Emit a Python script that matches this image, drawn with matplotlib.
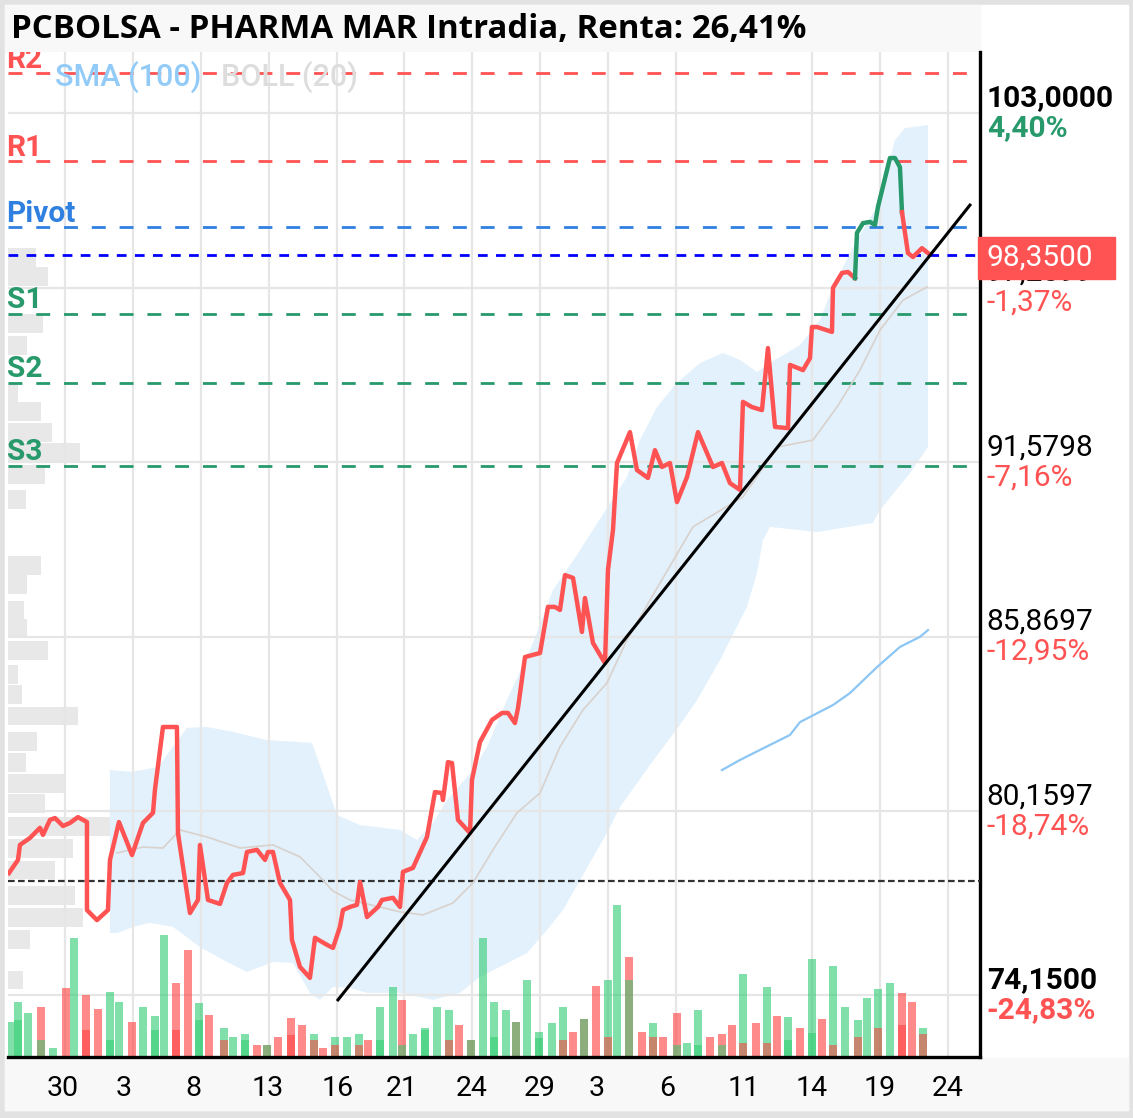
import matplotlib
matplotlib.use('Agg')
import matplotlib.pyplot as plt
import matplotlib.transforms as mtransforms
from matplotlib.patches import Rectangle
import numpy as np

plt.rcParams['font.family'] = ['Roboto', 'DejaVu Sans']

# --- datos (sesión = posición en el eje temporal, precio en euros) ---
sesion = [-0.825, -0.692, -0.663, -0.515, -0.368, -0.324, -0.221, -0.147, -0.029, 0.074,
          0.191, 0.324, 0.324, 0.471, 0.633, 0.663, 0.795, 0.987, 1.149, 1.296,
          1.325, 1.443, 1.649, 1.664, 1.841, 1.959, 1.988, 2.106, 2.283, 2.386,
          2.474, 2.622, 2.680, 2.828, 2.946, 2.990, 3.063, 3.166, 3.314, 3.343,
          3.461, 3.608, 3.682, 3.859, 3.947, 4.050, 4.094, 4.197, 4.300, 4.345,
          4.448, 4.610, 4.669, 4.831, 4.934, 4.978, 5.125, 5.331, 5.449, 5.552,
          5.567, 5.641, 5.700, 5.788, 5.965, 5.994, 6.112, 6.289, 6.436, 6.524,
          6.627, 6.672, 6.775, 6.892, 6.996, 7.113, 7.216, 7.290, 7.364, 7.482,
          7.614, 7.658, 7.776, 7.953, 7.997, 8.071, 8.130, 8.321, 8.424, 8.586,
          8.689, 8.792, 8.910, 9.013, 9.161, 9.323, 9.543, 9.676, 9.794, 9.941,
          9.985, 10.118, 10.265, 10.353, 10.457, 10.648, 10.678, 10.869, 10.972, 11.001,
          11.075, 11.296, 11.311, 11.443, 11.532, 11.635, 11.664, 11.753, 11.856, 11.929,
          11.973, 12.150, 12.224, 12.297, 12.327, 12.415, 12.489, 12.621, 12.710]
precio = [78.13, 78.56, 79.05, 79.28, 79.61, 79.38, 79.87, 79.93, 79.67, 79.77,
          79.96, 79.80, 76.92, 76.59, 76.92, 78.56, 79.80, 78.72, 79.77, 80.10,
          80.85, 82.91, 82.91, 79.44, 76.82, 77.25, 79.05, 77.25, 77.12, 77.81,
          78.07, 78.13, 78.82, 78.89, 78.56, 78.82, 78.82, 77.81, 77.25, 75.94,
          75.06, 74.70, 76.01, 75.78, 75.68, 76.37, 76.92, 77.02, 77.09, 77.84,
          76.69, 77.02, 77.25, 77.32, 77.02, 78.17, 78.30, 79.31, 80.78, 80.75,
          80.52, 81.76, 81.73, 79.87, 79.44, 81.18, 82.42, 83.14, 83.37, 83.37,
          83.04, 83.53, 85.20, 85.27, 85.33, 86.84, 86.84, 86.74, 87.88, 87.79,
          86.02, 87.13, 85.66, 85.00, 88.05, 89.36, 91.55, 92.56, 91.32, 91.06,
          91.97, 91.42, 91.55, 90.27, 91.09, 92.56, 91.42, 91.55, 90.89, 90.67,
          93.55, 93.38, 93.28, 95.31, 92.73, 92.69, 94.76, 94.59, 94.98, 96.00,
          96.00, 95.84, 97.28, 97.77, 97.80, 97.60, 99.08, 99.40, 99.44, 99.34,
          99.93, 101.53, 101.53, 101.23, 99.76, 98.42, 98.29, 98.58, 98.42]
tramo_verde = (115, 124)

boll_sup_x = [0.663, 0.987, 1.370, 1.591, 1.797, 2.091, 2.474, 2.975, 3.638, 3.829,
              4.006, 4.345, 4.934, 5.184, 5.420, 5.626, 6.009, 6.215, 6.510, 6.892,
              7.187, 7.541, 7.776, 8.277, 8.468, 8.719, 9.013, 9.352, 9.691, 9.941,
              10.191, 10.457, 10.825, 11.119, 11.311, 11.664, 11.973, 12.224, 12.371, 12.710]
boll_sup = [81.50, 81.44, 81.60, 82.26, 82.88, 82.91, 82.75, 82.48, 82.39, 81.18,
            80.03, 79.70, 79.54, 79.21, 79.77, 80.52, 81.50, 82.26, 83.79, 85.66,
            87.39, 88.54, 89.36, 91.09, 92.30, 93.38, 94.17, 94.82, 95.15, 94.92,
            94.53, 94.92, 95.41, 96.23, 97.31, 98.85, 99.99, 102.12, 102.51, 102.61]
boll_inf_x = [0.663, 0.781, 1.001, 1.252, 1.591, 1.988, 2.386, 2.680, 3.063, 3.358,
              3.608, 3.756, 3.947, 4.197, 4.448, 4.934, 5.420, 5.817, 6.112, 6.406,
              6.804, 7.099, 7.334, 7.585, 7.982, 8.174, 8.616, 9.058, 9.308, 9.647,
              10.044, 10.191, 10.280, 10.383, 11.075, 11.900, 12.003, 12.445, 12.710]
boll_inf = [76.17, 76.17, 76.37, 76.50, 76.37, 75.71, 75.22, 74.89, 75.22, 75.19,
            74.21, 73.98, 74.40, 74.37, 74.21, 74.21, 73.98, 74.21, 74.73, 75.06,
            75.51, 76.27, 76.92, 77.90, 79.44, 80.29, 81.67, 82.98, 83.79, 85.10,
            86.84, 87.95, 89.03, 89.46, 89.29, 89.59, 90.01, 91.22, 92.07]
boll_med_x = [0.766, 1.149, 1.443, 1.694, 2.091, 2.577, 3.063, 3.461, 3.756, 3.947,
              4.197, 4.934, 5.272, 5.714, 6.009, 6.303, 6.657, 6.996, 7.290, 7.629,
              7.982, 8.277, 8.763, 9.249, 9.985, 10.486, 11.016, 11.370, 11.708, 12.003,
              12.342, 12.695]
boll_med = [78.79, 78.98, 78.95, 79.54, 79.31, 78.95, 79.05, 78.66, 78.00, 77.54,
            77.25, 76.86, 76.76, 77.15, 77.81, 78.89, 80.10, 80.75, 82.26, 83.47,
            84.35, 85.76, 87.62, 89.46, 90.44, 92.07, 92.30, 93.38, 94.59, 95.90,
            96.88, 97.31]
sma_x = [9.676, 9.941, 10.236, 10.678, 10.825, 11.311, 11.561, 11.959, 12.297, 12.592, 12.710]
sma = [81.50, 81.83, 82.16, 82.65, 83.07, 83.63, 84.02, 84.87, 85.53, 85.86, 86.08]

# volumen (unidades arbitrarias), 'v' sube / 'r' baja
vol_x = [-0.810, -0.692, -0.545, -0.353, -0.177, 0.015, 0.133, 0.309, 0.486, 0.663,
         0.795, 0.987, 1.149, 1.325, 1.458, 1.635, 1.811, 1.973, 2.121, 2.342,
         2.474, 2.651, 2.828, 2.975, 3.137, 3.328, 3.490, 3.667, 3.800, 3.976,
         4.153, 4.330, 4.462, 4.639, 4.831, 4.963, 5.125, 5.302, 5.479, 5.655,
         5.803, 5.979, 6.156, 6.318, 6.495, 6.642, 6.804, 6.981, 7.172, 7.334,
         7.482, 7.644, 7.820, 7.997, 8.130, 8.306, 8.497, 8.660, 8.807, 9.013,
         9.161, 9.323, 9.499, 9.676, 9.823, 9.985, 10.177, 10.339, 10.486, 10.648,
         10.825, 11.001, 11.149, 11.311, 11.488, 11.679, 11.811, 11.973, 12.150, 12.327,
         12.474, 12.636]
vol = [35, 55, 44, 50, 9, 69, 119, 62, 48, 65,
       55, 35, 50, 41, 122, 74, 107, 54, 42, 29,
       20, 23, 12, 12, 20, 39, 32, 23, 9, 20,
       20, 23, 17, 50, 70, 57, 23, 29, 50, 47,
       32, 17, 119, 55, 47, 35, 77, 25, 34, 50,
       25, 38, 71, 77, 152, 100, 25, 34, 20, 44,
       14, 47, 20, 23, 32, 83, 34, 70, 41, 40,
       29, 98, 38, 91, 50, 37, 59, 68, 74, 64,
       55, 29]
vol_color = ['v', 'v', 'v', 'r', 'v', 'r', 'v', 'r', 'r', 'v',
             'v', 'r', 'v', 'v', 'v', 'r', 'r', 'v', 'r', 'v',
             'v', 'v', 'r', 'r', 'r', 'r', 'r', 'v', 'r', 'v',
             'v', 'v', 'r', 'v', 'v', 'r', 'v', 'v', 'v', 'v',
             'r', 'r', 'v', 'v', 'v', 'r', 'v', 'v', 'v', 'v',
             'r', 'r', 'r', 'v', 'v', 'r', 'r', 'v', 'r', 'r',
             'v', 'v', 'r', 'r', 'r', 'v', 'r', 'v', 'r', 'v',
             'r', 'v', 'r', 'v', 'v', 'v', 'v', 'v', 'v', 'r',
             'r', 'v']
vol2_x = [-0.692, -0.353, 0.309, 0.663, 1.325, 1.635, 1.973, 2.342, 2.651, 2.975,
          3.328, 3.667, 3.976, 4.330, 4.639, 4.963, 5.302, 5.655, 5.979, 6.318,
          6.642, 6.981, 7.334, 7.644, 7.997, 8.306, 8.660, 9.013, 9.323, 9.676,
          9.985, 10.339, 10.648, 11.001, 11.311, 11.679, 11.973, 12.327, 12.636]
vol2 = [37, 17, 27, 17, 27, 27, 37, 17, 17, 12,
        22, 17, 12, 12, 17, 12, 27, 17, 17, 20,
        35, 19, 17, 38, 20, 77, 20, 12, 12, 12,
        14, 14, 17, 24, 12, 20, 29, 32, 23]
vol2_color = ['v', 'v', 'r', 'v', 'v', 'r', 'v', 'r', 'v', 'v',
              'r', 'r', 'r', 'r', 'v', 'v', 'v', 'r', 'v', 'v',
              'v', 'v', 'r', 'v', 'r', 'v', 'r', 'v', 'v', 'v',
              'r', 'r', 'v', 'v', 'r', 'r', 'r', 'r', 'r']

# perfil de volumen por precio
perfil_precio = [98.29, 97.64, 96.13, 95.41, 93.87, 93.22, 92.56, 91.91, 91.16, 90.34,
                 88.21, 87.56, 86.71, 86.12, 85.40, 84.64, 83.96, 83.27, 82.42, 81.76,
                 81.05, 80.42, 79.64, 78.92, 78.23, 77.41, 76.69, 75.94, 74.63]
perfil_vol = [28, 40, 35, 19, 10, 33, 44, 72, 37, 18,
              33, 19, 16, 19, 40, 10, 14, 70, 29, 18,
              56, 37, 102, 65, 47, 67, 75, 22, 15]

pivotes = ['R2', 'R1', 'Pivot', 'S1', 'S2', 'S3']
pivote_valor = [104.31, 101.43, 99.27, 96.43, 94.17, 91.45]
pivote_color = ['#ff5252', '#ff5252', '#2f80e0', '#27996b', '#27996b', '#27996b']

eje_valores = [103.0, 97.2899, 91.5798, 85.8697, 80.1597, 74.15]
eje_textos = ['103,0000', '97,2899', '91,5798', '85,8697', '80,1597', '74,1500']
eje_pct = ['4,40%', '-1,37%', '-7,16%', '-12,95%', '-18,74%', '-24,83%']
ultimo = 98.35
referencia = 77.87
tendencia_x = [4.021, 13.328]
tendencia_y = [73.98, 99.99]

ticks_pos = [-0.029, 0.869, 1.885, 2.990, 4.021, 4.963, 5.994, 6.996, 7.835, 8.866,
             10.0, 11.001, 12.003, 13.005]
ticks_lbl = ['30', '3', '8', '13', '16', '21', '24', '29', '3', '6', '11', '14', '19', '24']

ROJO = '#ff5252'
VERDE = '#27996b'

W, H = 1133, 1118
fig = plt.figure(figsize=(W / 100, H / 100), dpi=100, facecolor='#e2e2e2')
fig.patches.append(Rectangle((5 / W, 1 - 1110 / H), 1123 / W, 1105 / H, transform=fig.transFigure,
                             color='white', zorder=-3))
fig.patches.append(Rectangle((5 / W, 1 - 1110 / H), 1123 / W, 52 / H, transform=fig.transFigure,
                             color='#f8f8f8', zorder=-2))
fig.patches.append(Rectangle((5 / W, 1 - 52 / H), 975 / W, 47 / H, transform=fig.transFigure,
                             color='#f8f8f8', zorder=-2))

ax = fig.add_axes([8 / W, 1 - 1057 / H, 972 / W, 1005 / H])
ax.set_facecolor('white')
ax.set_xlim(-0.839, 13.476)
ax.set_ylim(72.11, 105.0)

# rejilla
ax.set_yticks(eje_valores)
ax.set_yticklabels([])
ax.set_xticks(range(14), minor=True)
ax.set_xticks(ticks_pos)
ax.set_xticklabels(ticks_lbl, fontsize=20.5)
ax.tick_params(axis='x', which='both', length=0, pad=13)
ax.tick_params(axis='y', length=0)
ax.grid(axis='y', color='#e6e6e6', lw=1.6, zorder=0)
ax.grid(axis='x', which='minor', color='#e6e6e6', lw=1.6, zorder=0)
for s in ['left', 'top']:
    ax.spines[s].set_visible(False)
for s in ['right', 'bottom']:
    ax.spines[s].set_linewidth(2.4)
    ax.spines[s].set_color('black')

# bandas de bollinger
banda_x = np.concatenate([boll_sup_x, boll_inf_x[::-1]])
banda_y = np.concatenate([boll_sup, boll_inf[::-1]])
ax.fill(banda_x, banda_y, color='#e2f1fc', lw=0, zorder=1)

# perfil de volumen
perfil_tr = mtransforms.blended_transform_factory(
    mtransforms.Affine2D().scale(1 / 972, 1) + ax.transAxes, ax.transData)
ax.barh(perfil_precio, perfil_vol, height=0.62, left=0, color='#e8e8e8',
        transform=perfil_tr, zorder=1.5)

# volumen
vol_tr = mtransforms.blended_transform_factory(
    ax.transData, mtransforms.Affine2D().scale(1, 1 / 1005) + ax.transAxes)
col = {'v': '#2ecc71', 'r': '#ff3d3d'}
ax.bar(vol_x, vol, width=0.13, color=[col[c] for c in vol_color], alpha=0.6,
       transform=vol_tr, zorder=2)
ax.bar(vol2_x, vol2, width=0.13, color=[col[c] for c in vol2_color], alpha=0.55,
       transform=vol_tr, zorder=2.1)

# niveles pivote
for nombre, valor, c in zip(pivotes, pivote_valor, pivote_color):
    ax.axhline(valor, color=c, lw=2, ls=(0, (5, 5)), zorder=3)
    ax.annotate(nombre, xy=(0.0, valor), xycoords=('axes fraction', 'data'),
                xytext=(-1, 4), textcoords='offset points', color=c, fontsize=21.5,
                fontweight='bold', va='baseline', ha='left', annotation_clip=False,
                clip_on=True, zorder=6)
ax.axhline(ultimo, color='#0000ff', lw=2, ls=(0, (3.5, 3)), zorder=3)
ax.axhline(referencia, color='#333333', lw=1.6, ls=(0, (3, 1.5)), zorder=3)

# medias
ax.plot(boll_med_x, boll_med, color='#d9d1cc', lw=1.2, zorder=3)
ax.plot(sma_x, sma, color='#8cc6f4', lw=1.6, zorder=3)

# precio
a, b = tramo_verde
ax.plot(sesion[:a + 1], precio[:a + 1], color=ROJO, lw=3.2, zorder=4, solid_joinstyle='round')
ax.plot(sesion[a:b + 1], precio[a:b + 1], color=VERDE, lw=3.2, zorder=4, solid_joinstyle='round')
ax.plot(sesion[b:], precio[b:], color=ROJO, lw=3.2, zorder=4, solid_joinstyle='round')

# línea de tendencia
ax.plot(tendencia_x, tendencia_y, color='black', lw=2.2, zorder=5, clip_on=False)

# leyenda
ax.text(0.048, 0.975, 'SMA (100)', transform=ax.transAxes, color='#92cbf7', fontsize=22,
        fontweight='medium', va='center', ha='left', zorder=6)
ax.text(0.219, 0.975, 'BOLL (20)', transform=ax.transAxes, color='#dddddd', fontsize=22,
        fontweight='medium', va='center', ha='left', zorder=6)

# etiquetas del eje derecho
lab_tr = mtransforms.blended_transform_factory(ax.transAxes, ax.transData)
for i, (v, t, p) in enumerate(zip(eje_valores, eje_textos, eje_pct)):
    extremo = i in (0, len(eje_valores) - 1)
    peso = 'bold' if extremo else 'normal'
    cpct = VERDE if p[0] != '-' else ROJO
    ax.annotate(t, xy=(1.007, v), xycoords=lab_tr, xytext=(0, 10.5), textcoords='offset points',
                fontsize=21.5, fontweight=peso, color='black', va='center', ha='left',
                annotation_clip=False, zorder=7)
    ax.annotate(p, xy=(1.007, v), xycoords=lab_tr, xytext=(0, -11), textcoords='offset points',
                fontsize=21.5, fontweight=peso, color=cpct, va='center', ha='left',
                annotation_clip=False, zorder=7)

# último precio
fig.patches.append(Rectangle((978 / W, 1 - 279 / H), 137 / W, 42 / H, transform=fig.transFigure,
                             color='#ff5252', zorder=10))
fig.text(987 / W, 1 - 258 / H, '98,3500', color='white', fontsize=21.5, va='center', ha='left',
         zorder=11)

# título
fig.text(11 / W, 1 - 29 / H, 'PCBOLSA - PHARMA MAR Intradia, Renta: 26,41%',
         fontsize=23.8, fontweight='bold', family=['Open Sans', 'DejaVu Sans'],
         va='center', ha='left')

fig.savefig('out.png', dpi=100, facecolor=fig.get_facecolor())
